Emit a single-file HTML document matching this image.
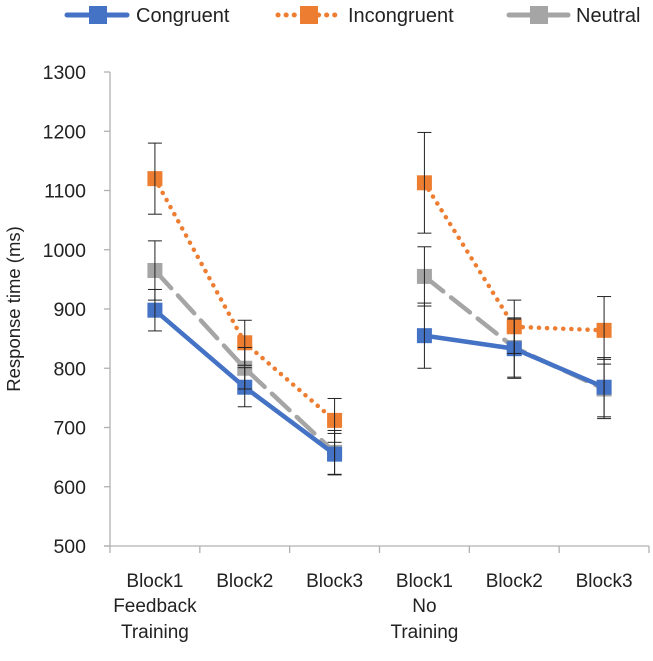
<!DOCTYPE html>
<html><head><meta charset="utf-8"><style>
body{margin:0;background:#fff;}
svg text{font-family:"Liberation Sans","DejaVu Sans",sans-serif;fill:#222;}
</style></head><body>
<svg id="chart" width="653" height="656" viewBox="0 0 653 656" xmlns="http://www.w3.org/2000/svg">
<g id="legend">
 <g>
  <line x1="67" y1="15" x2="127" y2="15" stroke="#4472C4" stroke-width="5" stroke-linecap="round"/>
  <rect x="89" y="6" width="18" height="18" fill="#4472C4"/>
  <text x="136" y="22" font-size="20">Congruent</text>
 </g>
 <g>
  <line x1="278" y1="15" x2="340" y2="15" stroke="#ED7D31" stroke-width="5" stroke-dasharray="0.1 8" stroke-linecap="round"/>
  <rect x="300" y="6" width="18" height="18" fill="#ED7D31"/>
  <text x="348" y="22" font-size="20">Incongruent</text>
 </g>
 <g>
  <line x1="509" y1="15" x2="568" y2="15" stroke="#A5A5A5" stroke-width="5" stroke-linecap="round"/>
  <rect x="530" y="6" width="18" height="18" fill="#A5A5A5"/>
  <text x="576" y="22" font-size="20">Neutral</text>
 </g>
</g>
<g id="axes"></g>
<g id="series"></g>
<text transform="translate(20,309) rotate(-90)" text-anchor="middle" font-size="18.5">Response time (ms)</text>
</svg>
<script>
const categories=["Block1","Block2","Block3","Block1","Block2","Block3"];
const groupLabels=[["Feedback","Training"],["No","Training"]];
const yTicks=[500,600,700,800,900,1000,1100,1200,1300];
const congruent=[898,768,655,855,833,768];
const incongruent=[1120,843,712,1113,870,864];
const neutral=[965,800,658,955,835,765];
const congruentErr=[35,33,35,55,50,50];
const incongruentErr=[60,38,37,85,45,57];
const neutralErr=[50,35,37,50,50,50];

const NS="http://www.w3.org/2000/svg";
const x0=110,x1=649,y0=546,y1=72,yMin=500,yMax=1300;
const step=(x1-x0)/categories.length;
function xs(i){return x0+step*(i+0.5);}
function ys(v){return y0-(v-yMin)/(yMax-yMin)*(y0-y1);}
function mk(tag,attrs,parent){const e=document.createElementNS(NS,tag);for(const k in attrs)e.setAttribute(k,attrs[k]);parent.appendChild(e);return e;}
const axes=document.getElementById('axes');
let yl=mk('line',{x1:x0,y1:y1,x2:x0,y2:y0,stroke:'#b0b0b0','stroke-width':1.3},axes);


let xl=mk('line',{x1:x0-6,y1:y0,x2:x1,y2:y0,stroke:'#b0b0b0','stroke-width':1.3},axes);


yTicks.forEach(v=>{
 mk('line',{x1:x0-6,y1:ys(v),x2:x0,y2:ys(v),stroke:'#b0b0b0','stroke-width':1.3},axes);
 const t=mk('text',{x:x0-24,y:ys(v)+7,'text-anchor':'end','font-size':19.5},axes);t.textContent=v;
 
 
});
for(let i=0;i<=categories.length;i++){
 mk('line',{x1:x0+step*i,y1:y0,x2:x0+step*i,y2:y0+7,stroke:'#b0b0b0','stroke-width':1.3},axes);
}
categories.forEach((c,i)=>{
 const t=mk('text',{x:xs(i),y:587,'text-anchor':'middle','font-size':19},axes);t.textContent=c;
 
 
});
groupLabels.forEach((g,gi)=>{
 g.forEach((s,li)=>{
  const t=mk('text',{x:xs(gi*3),y:612+li*26,'text-anchor':'middle','font-size':19},axes);t.textContent=s;
  
  
 });
});
const seriesG=document.getElementById('series');
const defs=[
 {name:'congruent',vals:congruent,err:congruentErr,color:'#4472C4',dash:null},
 {name:'incongruent',vals:incongruent,err:incongruentErr,color:'#ED7D31',dash:'0.1 8'},
 {name:'neutral',vals:neutral,err:neutralErr,color:'#A5A5A5',dash:'24 10'}
];
const order=[2,0,1];
order.forEach(k=>{
 const s=defs[k];
 const g=mk('g',{},seriesG);
 
 
 [[0,1,2],[3,4,5]].forEach(idx=>{
  const p=mk('polyline',{points:idx.map(i=>xs(i)+','+ys(s.vals[i])).join(' '),fill:'none',stroke:s.color,'stroke-width':4.5,'stroke-linecap':'round'},g);
  if(s.dash)p.setAttribute('stroke-dasharray',s.dash);
  
  
 });
 s.vals.forEach((v,i)=>{
  const r=mk('rect',{x:xs(i)-7.5,y:ys(v)-7.5,width:15,height:15,fill:s.color},g);
  
  
 });
});
defs.forEach(s=>{
 s.vals.forEach((v,i)=>{
  const e=mk('g',{stroke:'#222','stroke-width':1},seriesG);
  
  
  const x=xs(i),a=ys(v+s.err[i]),b=ys(v-s.err[i]);
  mk('line',{x1:x,y1:a,x2:x,y2:b},e);
  mk('line',{x1:x-7,y1:a,x2:x+7,y2:a},e);
  mk('line',{x1:x-7,y1:b,x2:x+7,y2:b},e);
 });
});
</script>
</body></html>
